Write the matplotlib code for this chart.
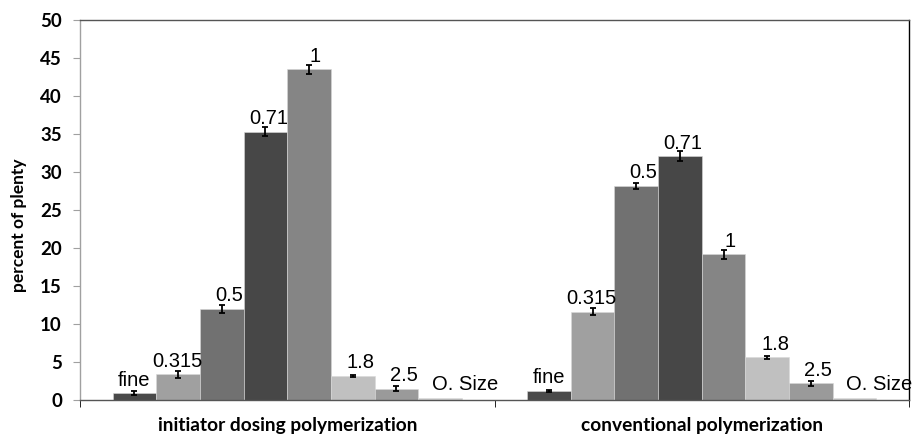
import matplotlib
matplotlib.use("Agg")
import matplotlib.pyplot as plt
import numpy as np

groups = ["initiator dosing polymerization", "conventional polymerization"]
sizes = ["fine", "0.315", "0.5", "0.71", "1", "1.8", "2.5", "O. Size"]
idp_vals = [0.9, 3.4, 12.0, 35.3, 43.5, 3.2, 1.5, 0.3]
idp_err = [0.25, 0.45, 0.55, 0.6, 0.6, 0.15, 0.3, 0.0]
conv_vals = [1.2, 11.6, 28.2, 32.1, 19.2, 5.6, 2.2, 0.3]
conv_err = [0.1, 0.45, 0.4, 0.65, 0.6, 0.15, 0.3, 0.0]

colors = ["#4a4a4a", "#a0a0a0", "#717171", "#474747", "#858585",
          "#c0c0c0", "#9a9a9a", "#cdcdcd"]
# label x shifts in pixels (Excel placed them a bit off-centre)
label_dx = [0, -1, 7, 3, 6, 8, 7, 25]

fig = plt.figure(figsize=(9.16, 4.4), dpi=100)
ax = fig.add_axes([80 / 916, 40 / 440, 829 / 916, 380 / 440])

x = np.arange(len(groups))
n = len(sizes)
width = 0.843 / n

for i, s in enumerate(sizes):
    vals = [idp_vals[i], conv_vals[i]]
    errs = [idp_err[i], conv_err[i]]
    pos = x - 0.843 / 2 + width * (i + 0.5)
    ax.bar(pos, vals, width, color=colors[i], edgecolor="#d8d8d8", linewidth=0.4, zorder=2)
    if max(errs) > 0:
        ax.errorbar(pos, vals, yerr=errs, fmt="none", ecolor="black", elinewidth=1.3,
                    capsize=2.5, capthick=1.3, zorder=3)
    for p, v in zip(pos, vals):
        ax.annotate(s, (p, v), xytext=(label_dx[i], 7.5), textcoords="offset pixels",
                    ha="center", va="baseline", fontsize=14.5,
                    family="Liberation Sans", color="black", zorder=4)

ax.set_xlim(-0.5, 1.5)
ax.set_ylim(0, 50)
ax.set_yticks(np.arange(0, 51, 5))
ax.set_xticks(x)
ax.set_xticklabels(groups, fontsize=13.8, fontweight="bold", family="Lato")
ax.set_xticks([-0.5, 0.5, 1.5], minor=True)
ax.tick_params(axis="x", which="major", length=0, pad=12)
ax.tick_params(axis="x", which="minor", length=5, direction="out", color="black")
ax.tick_params(axis="y", length=5, direction="out", color="#a0a0a0", pad=8)
for lab in ax.get_yticklabels():
    lab.set_fontsize(13.5)
    lab.set_fontweight("bold")
    lab.set_family("Lato")

ax.set_ylabel("percent of plenty", fontsize=12.5, fontweight="bold", family="Lato")
ax.yaxis.set_label_coords(-0.064, 0.46)

ax.spines["left"].set_color("#a0a0a0")
ax.spines["top"].set_color("#555555")
ax.spines["right"].set_color("black")
ax.spines["bottom"].set_color("#555555")
for sp in ax.spines.values():
    sp.set_linewidth(1.0)

plt.savefig("out.png", dpi=100)
